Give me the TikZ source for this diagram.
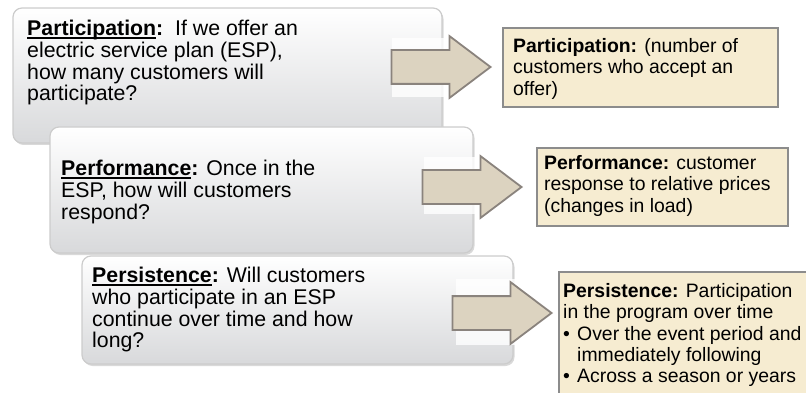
\documentclass[tikz,border=0pt]{standalone}
\usepackage{fontspec}
\setmainfont{Liberation Sans}
\usetikzlibrary{shapes.arrows,shadows}
\definecolor{parch}{HTML}{F6ECD1}
\definecolor{parchedge}{HTML}{8C8C8C}
\definecolor{arrowlight}{HTML}{F4F0E6}
\definecolor{arrowdark}{HTML}{DCD3C0}
\definecolor{arrowedge}{HTML}{8A837D}
\definecolor{boxgray}{HTML}{D8D9DB}
\newcommand{\uword}[1]{\setbox0\hbox{#1}\leavevmode\rlap{\rule[-3pt]{\wd0}{1.4pt}}\box0}

\begin{document}
\begin{tikzpicture}[x=1pt,y=-1pt,
    question/.style={draw=black!20,line width=1.2pt,rounded corners=9pt,
      top color=white,bottom color=boxgray,
      drop shadow={opacity=0.3,shadow xshift=1.5pt,shadow yshift=-2pt}},
    qtext/.style={anchor=north west,inner sep=0pt,align=left,
      font=\fontsize{21.3}{21.7}\selectfont},
    answer/.style={draw=parchedge,line width=1.6pt,fill=parch},
    atext/.style={anchor=north west,inner sep=0pt,align=left,
      font=\fontsize{19.4}{21.4}\selectfont},
    bigarrow/.style={single arrow,anchor=tip,draw=arrowedge,line width=1.8pt,
      top color=arrowdark,middle color=arrowlight,bottom color=arrowdark,
      minimum height=99pt,inner xsep=0pt,inner ysep=16pt,
      single arrow head extend=14pt,single arrow tip angle=74},
    patch/.style={fill=white,opacity=0.8}]
  \useasboundingbox (0,0) rectangle (806,393);
  \clip (0,0) rectangle (806,393);
  \draw[question] (13,8) rectangle (442,143);
  \node[qtext] (q1) at (27,20) {\uword{\textbf{Participation}}\textbf{:}\ \ If we offer an\\
    electric service plan (ESP),\\how many customers will\\participate?};
  \draw[question] (50,127) rectangle (473,253);
  \node[qtext] (q2) at (61,160) {\uword{\textbf{Performance}}\textbf{:} Once in the\\
    ESP, how will customers\\respond?};
  \draw[question] (82,256) rectangle (513,364);
  \node[qtext] (q3) at (92,267) {\uword{\textbf{Persistence}}\textbf{:} Will customers\\
    who participate in an ESP\\continue over time and how\\long?};
  \fill[patch] (392,38) rectangle (495,97);
  \fill[patch] (424,157) rectangle (526,214);
  \fill[patch] (456,279) rectangle (556,345);
  \node[bigarrow] (arr1) at (492,67) {};
  \node[bigarrow] (arr2) at (523,187) {};
  \node[bigarrow] (arr3) at (553,313) {};
  \draw[answer] (503,28) rectangle (778,107);
  \node[atext] (a1) at (513,38) {\textbf{Participation:} (number of\\
    customers who accept an\\offer)};
  \draw[answer] (537,148) rectangle (788,226);
  \node[atext] (a2) at (544,155) {\textbf{Performance:} customer\\
    response to relative prices\\(changes in load)};
  \draw[answer] (559,272) rectangle (830,410);
  \node[atext] (a3) at (563,283) {\textbf{Persistence:} Participation\\
    in the program over time\\
    \makebox[14pt][l]{\textbullet}Over the event period and\\
    \hspace*{14pt}immediately following\\
    \makebox[14pt][l]{\textbullet}Across a season or years};
\end{tikzpicture}
\end{document}
